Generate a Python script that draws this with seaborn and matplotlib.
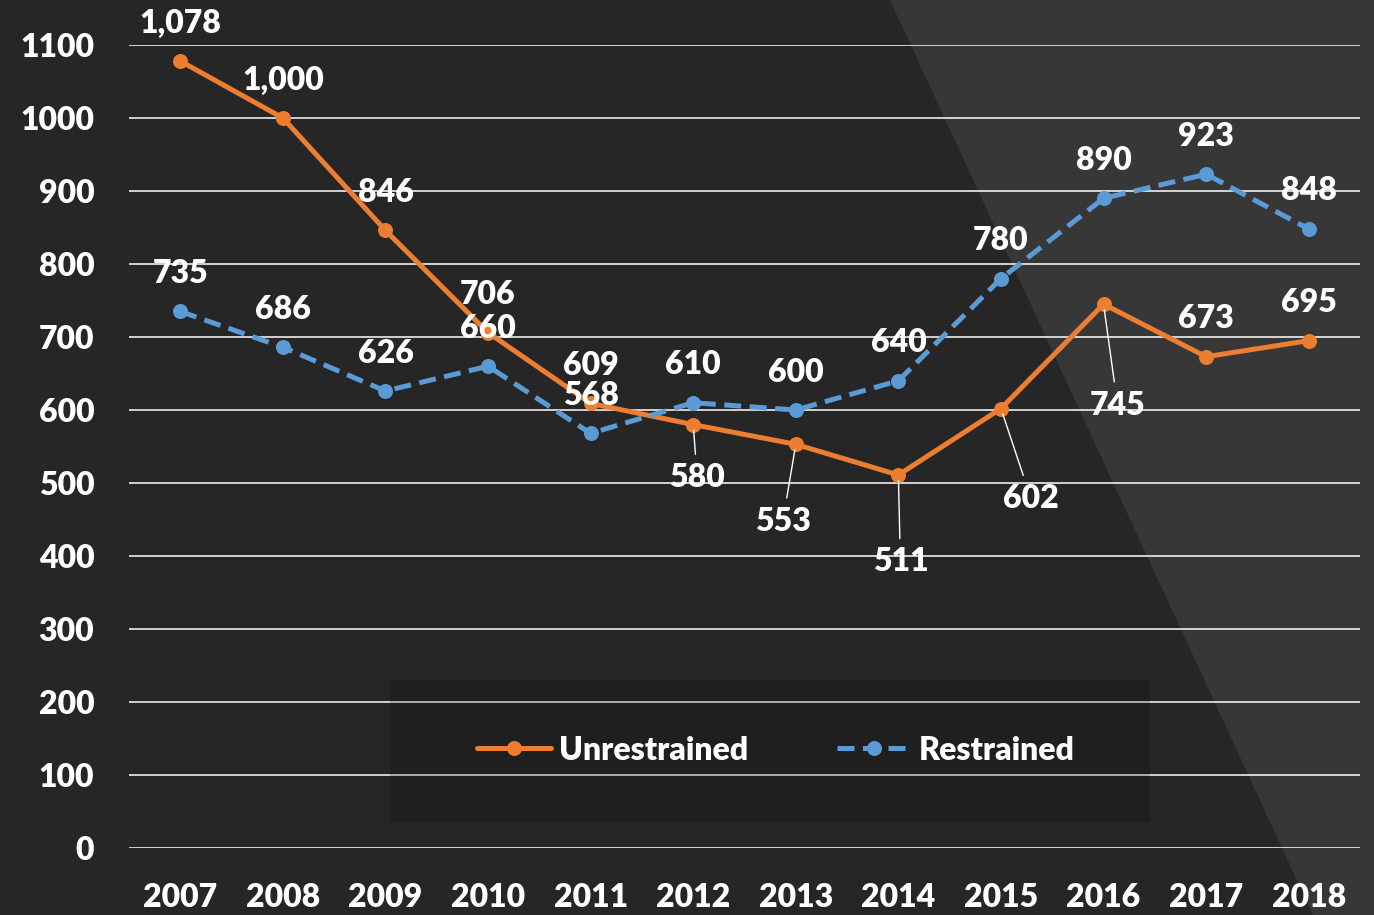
import numpy as np
import pandas as pd
import seaborn as sns
import matplotlib.pyplot as plt
from matplotlib.patches import Polygon, Rectangle

# chart data
years = [2007, 2008, 2009, 2010, 2011, 2012, 2013, 2014, 2015, 2016, 2017, 2018]
unrestrained = [1078, 1000, 846, 706, 609, 580, 553, 511, 602, 745, 673, 695]
restrained = [735, 686, 626, 660, 568, 610, 600, 640, 780, 890, 923, 848]
y_ticks = [0, 100, 200, 300, 400, 500, 600, 700, 800, 900, 1000, 1100]

W, H = 1374, 915
ORANGE = "#ED7D31"
BLUE = "#5B9BD5"
FS = 23
WT = "heavy"

sns.set_style("dark")
plt.rcParams["font.family"] = ["Lato", "DejaVu Sans"]
plt.rcParams["font.weight"] = WT


def fx(x, y):
    return (x / W, 1 - y / H)


fig = plt.figure(figsize=(W / 100, H / 100), dpi=100, facecolor="#262626")
fig.patches.append(Polygon([fx(890, 0), fx(1374, 0), fx(1374, 915), fx(1313, 915)],
                           closed=True, transform=fig.transFigure, facecolor="#373737",
                           edgecolor="none", zorder=-5))

l, r, t, b = 129, 1360, 45, 848
ax = fig.add_axes([l / W, 1 - b / H, (r - l) / W, (b - t) / H])
ax.set_facecolor("none")

df = pd.DataFrame({"year": years, "Unrestrained": unrestrained, "Restrained": restrained})

sns.lineplot(data=df, x="year", y="Unrestrained", ax=ax, color=ORANGE, linewidth=3.6,
             marker="o", markersize=10.8, markeredgewidth=0, label="Unrestrained", zorder=3)
sns.lineplot(data=df, x="year", y="Restrained", ax=ax, color=BLUE, linewidth=3.6,
             marker="o", markersize=10.8, markeredgewidth=0, label="Restrained", zorder=3)
ax.lines[1].set_dashes([3.4, 1.7])

ax.set_xlim(2006.5, 2018.5)
ax.set_ylim(0, 1100)
ax.set_xticks(years)
ax.set_yticks(y_ticks)
ax.set_xlabel("")
ax.set_ylabel("")
for s in ax.spines.values():
    s.set_visible(False)
ax.set_axisbelow(True)
ax.grid(axis="y", color="white", linewidth=1.1)
ax.grid(axis="x", visible=False)
ax.tick_params(axis="both", length=0, colors="white", labelsize=FS)
ax.tick_params(axis="x", pad=25)
ax.tick_params(axis="y", pad=25)
for lab in ax.get_xticklabels() + ax.get_yticklabels():
    lab.set_fontweight(WT)

lab_kw = dict(color="white", fontsize=FS, fontweight=WT, ha="center", va="center",
              textcoords="offset points", annotation_clip=False)

# offsets in pixels (dx, dy downward positive) for labels with leader lines
leader = {2012: (4, 53), 2013: (-13, 77), 2014: (2, 87), 2015: (30, 90), 2016: (14, 101)}
for yr, v in zip(years, unrestrained):
    if yr in leader:
        dx, dy = leader[yr]
        ax.annotate(f"{v:,}", (yr, v), xytext=(dx * 0.72, -dy * 0.72),
                    arrowprops=dict(arrowstyle="-", color="white", lw=1.0,
                                    shrinkA=4, shrinkB=4), **lab_kw)
    else:
        ax.annotate(f"{v:,}", (yr, v), xytext=(0, 38 * 0.72), **lab_kw)
for yr, v in zip(years, restrained):
    ax.annotate(f"{v:,}", (yr, v), xytext=(0, 38 * 0.72), **lab_kw)

# legend box
ax.add_patch(Rectangle(fx(390, 822), (1150 - 390) / W, (822 - 680) / H,
                       transform=fig.transFigure, facecolor="black", alpha=0.17,
                       edgecolor="none", zorder=1))
leg = ax.legend(loc="center", bbox_to_anchor=fx(776, 750), bbox_transform=fig.transFigure,
                ncol=2, frameon=False, fontsize=FS, handlelength=2.3, handletextpad=0.25,
                columnspacing=2.8)
leg.set_zorder(5)
for txt in leg.get_texts():
    txt.set_color("white")
    txt.set_fontweight(WT)

fig.savefig("out.png", dpi=100, facecolor=fig.get_facecolor())
